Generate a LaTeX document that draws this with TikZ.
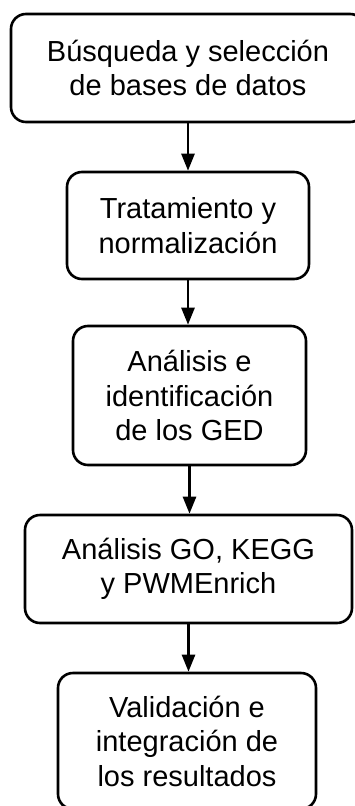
\documentclass[tikz,border=0pt]{standalone}
\usepackage{fontspec}
\setmainfont{Liberation Sans}
\usetikzlibrary{arrows.meta}
\begin{document}
\begin{tikzpicture}[x=1pt,y=1pt,
  stage/.style={draw=black, line width=2.6pt, rounded corners=15pt,
    align=center, inner sep=0pt, font=\fontsize{29}{34.5}\selectfont},
  flow/.style={line width=2.6pt, -{Triangle[width=13pt,length=17pt]}}]
  \useasboundingbox (0,0) rectangle (355,-806);
  \node[stage, minimum width=354pt, minimum height=108pt] (b1) at (188,-68)
    {Búsqueda y selección\\de bases de datos};
  \node[stage, minimum width=242pt, minimum height=107pt] (b2) at (188,-225.5)
    {Tratamiento y\\normalización};
  \node[stage, minimum width=233pt, minimum height=139pt] (b3) at (189.5,-395.5)
    {Análisis e\\identificación\\de los GED};
  \node[stage, minimum width=327pt, minimum height=108pt] (b4) at (188.5,-569)
    {Análisis GO, KEGG\\y PWMEnrich};
  \node[stage, minimum width=258pt, minimum height=136pt] (b5) at (187,-741)
    {Validación e\\integración de\\los resultados};
  \draw[flow] (b1.south) -- (b1.south |- b2.north);
  \draw[flow] (b2.south) -- (b2.south |- b3.north);
  \draw[flow] (b3.south) -- (b3.south |- b4.north);
  \draw[flow] (b4.south) -- (b4.south |- b5.north);
\end{tikzpicture}
\end{document}
